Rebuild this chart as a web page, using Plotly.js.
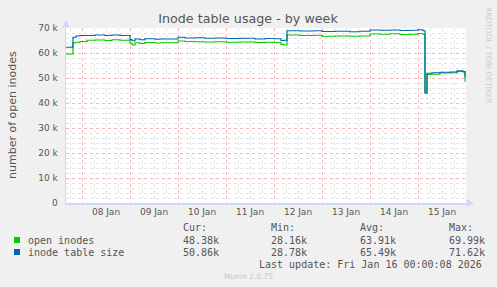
<!DOCTYPE html>
<html>
<head>
<meta charset="utf-8">
<script src="https://cdn.plot.ly/plotly-3.0.1.min.js"></script>
<style>
html,body{margin:0;padding:0;background:#F0F0F0;}
#chart{width:497px;height:287px;}
</style>
</head>
<body>
<div id="chart"></div>
<script>
// ---- data ----
const times = [
  '2026-01-07 16:00','2026-01-07 19:30','2026-01-07 21:00','2026-01-07 23:00',
  '2026-01-08 02:30','2026-01-08 06:30','2026-01-08 11:30','2026-01-08 15:00','2026-01-08 19:00',
  '2026-01-09 00:00','2026-01-09 01:00','2026-01-09 02:30','2026-01-09 05:00','2026-01-09 07:30',
  '2026-01-09 12:30','2026-01-09 15:00',
  '2026-01-10 00:00','2026-01-10 03:30','2026-01-10 08:30','2026-01-10 13:30','2026-01-10 18:30',
  '2026-01-11 00:00','2026-01-11 07:00','2026-01-11 14:30','2026-01-11 19:30',
  '2026-01-12 00:00','2026-01-12 03:30','2026-01-12 05:00','2026-01-12 06:30','2026-01-12 13:00',
  '2026-01-12 20:30',
  '2026-01-13 00:00','2026-01-13 06:30','2026-01-13 14:00','2026-01-13 19:00',
  '2026-01-14 00:00','2026-01-14 05:00','2026-01-14 10:00','2026-01-14 15:00','2026-01-14 20:00',
  '2026-01-15 00:00','2026-01-15 02:30','2026-01-15 03:30','2026-01-15 04:30','2026-01-15 07:00',
  '2026-01-15 11:00','2026-01-15 16:00','2026-01-15 19:30','2026-01-15 22:30','2026-01-15 23:30'
];
const openInodes = [
  59600,64100,64300,64600,
  65100,65200,65000,65300,65100,
  63900,63200,64100,63800,64200,
  64000,64100,
  64800,64600,64500,64400,64500,
  64300,64400,64200,64300,
  64200,63400,63200,67200,67000,
  67100,
  66700,66800,66700,66800,
  67600,67500,67700,67400,67500,
  67800,67500,44500,51400,51500,
  52000,52100,52600,52400,48500
];
const tableSize = [
  62300,66300,66800,67000,
  67000,67200,67000,67200,67000,
  65400,64900,65600,65300,65700,
  65500,65600,
  66300,66000,66100,65900,66000,
  65800,65900,65600,65800,
  65700,65000,65100,68900,68800,
  68900,
  68600,68700,68500,68700,
  69200,69100,69200,69000,69100,
  69300,68900,43900,51900,52100,
  52300,52400,52900,52600,50500
];
const yTickVals = [0,10000,20000,30000,40000,50000,60000,70000];
const yTickText = ['0','10 k','20 k','30 k','40 k','50 k','60 k','70 k'];
const seriesNames = ['open inodes','inode table size'];
const seriesColors = ['#00CC00','#0066B3'];
const legendHeaders = ['Cur:','Min:','Avg:','Max:'];
const legendValues = [
  ['48.38k','28.16k','63.91k','69.99k'],
  ['50.86k','28.78k','65.49k','71.62k']
];
const lastUpdate = 'Last update: Fri Jan 16 00:00:08 2026';

// ---- layout helpers (pixel -> paper) ----
const W = 497, H = 287, L = 66, R = 31, T = 28, B = 84;
const PW = W - L - R, PH = H - T - B;
const px = v => (v - L) / PW;
const py = v => (H - B - v) / PH;

const traces = [
  {x: times, y: openInodes, name: seriesNames[0], type: 'scatter', mode: 'lines',
   line: {color: seriesColors[0], width: 1.2, shape: 'hv'}},
  {x: times, y: tableSize, name: seriesNames[1], type: 'scatter', mode: 'lines',
   line: {color: seriesColors[1], width: 1.2, shape: 'hv'}}
];

const mono = {family: 'DejaVu Sans Mono', size: 10, color: '#555555'};
const ann = [];
const colX = [181, 269, 358, 447];
legendHeaders.forEach((h, i) => {
  ann.push({xref: 'paper', yref: 'paper', x: px(colX[i]), y: py(227), text: h,
    showarrow: false, xanchor: 'left', yanchor: 'middle', font: mono});
});
seriesNames.forEach((n, r) => {
  const yy = r === 0 ? 240 : 252;
  ann.push({xref: 'paper', yref: 'paper', x: px(26), y: py(yy), text: n,
    showarrow: false, xanchor: 'left', yanchor: 'middle', font: mono});
  legendValues[r].forEach((v, i) => {
    ann.push({xref: 'paper', yref: 'paper', x: px(colX[i]), y: py(yy), text: v,
      showarrow: false, xanchor: 'left', yanchor: 'middle', font: mono});
  });
});
ann.push({xref: 'paper', yref: 'paper', x: px(484), y: py(264), text: lastUpdate,
  showarrow: false, xanchor: 'right', yanchor: 'middle', font: mono});
ann.push({xref: 'paper', yref: 'paper', x: px(248), y: py(276), text: 'Munin 2.0.75',
  showarrow: false, xanchor: 'center', yanchor: 'middle',
  font: {family: 'DejaVu Sans', size: 7.5, color: '#C4C4C4'}});
ann.push({xref: 'paper', yref: 'paper', x: px(488), y: py(55), text: 'RRDTOOL / TOBI OETIKER',
  showarrow: false, textangle: 90, xanchor: 'center', yanchor: 'middle',
  font: {family: 'DejaVu Sans', size: 7.5, color: '#CCCCCC'}});
ann.push({xref: 'paper', yref: 'paper', x: px(12), y: py(115), text: 'number of open inodes',
  showarrow: false, textangle: -90, xanchor: 'center', yanchor: 'middle',
  font: {family: 'DejaVu Sans', size: 11, color: '#555555'}});
// axis arrows
ann.push({xref: 'paper', yref: 'paper', x: 0, y: py(20), ax: 0, ay: 6, text: '',
  showarrow: true, arrowhead: 2, arrowsize: 1, arrowwidth: 1.5, arrowcolor: '#CFD6F8'});
ann.push({xref: 'paper', yref: 'paper', x: px(474), y: 0, ax: -6, ay: 0, text: '',
  showarrow: true, arrowhead: 2, arrowsize: 1, arrowwidth: 1.5, arrowcolor: '#CFD6F8'});

const shapes = seriesColors.map((c, r) => {
  const yy = r === 0 ? 240 : 252;
  return {type: 'rect', xref: 'paper', yref: 'paper',
    x0: px(14), x1: px(20), y0: py(yy + 3), y1: py(yy - 3),
    fillcolor: c, line: {width: 0}};
});

const layout = {
  width: W, height: H,
  margin: {l: L, r: R, t: T, b: B, pad: 0},
  paper_bgcolor: '#F0F0F0',
  plot_bgcolor: '#FFFFFF',
  showlegend: false,
  title: {text: 'Inode table usage - by week', x: 0.499, xanchor: 'center',
    y: 1 - 19 / H, yanchor: 'middle',
    font: {family: 'DejaVu Sans', size: 12.7, color: '#555555'}},
  xaxis: {
    type: 'date',
    range: ['2026-01-07 16:00', '2026-01-16 00:00'],
    tick0: '2026-01-08 00:00', dtick: 86400000,
    tickformat: '%d %b', ticklabelmode: 'period',
    showgrid: true, gridcolor: '#F3B4B4', griddash: 'dot', gridwidth: 1,
    minor: {dtick: 21600000, showgrid: true, gridcolor: '#E2E2E2', griddash: 'dot', gridwidth: 1, ticks: ''},
    ticks: '', showline: true, linecolor: '#CFD6F8', linewidth: 1.5, mirror: false,
    zeroline: false,
    tickfont: {family: 'DejaVu Sans', size: 9, color: '#555555'}
  },
  yaxis: {
    range: [0, 70000], tickvals: yTickVals, ticktext: yTickText,
    showgrid: true, gridcolor: '#F3B4B4', griddash: 'dot', gridwidth: 1,
    minor: {dtick: 2000, showgrid: true, gridcolor: '#E2E2E2', griddash: 'dot', gridwidth: 1, ticks: ''},
    ticks: 'outside', ticklen: 5, tickcolor: 'rgba(0,0,0,0)',
    showline: true, linecolor: '#CFD6F8', linewidth: 1.5, mirror: false,
    zeroline: false,
    tickfont: {family: 'DejaVu Sans', size: 9, color: '#555555'}
  },
  annotations: ann,
  shapes: shapes
};

Plotly.newPlot('chart', traces, layout, {staticPlot: true, displayModeBar: false});
</script>
</body>
</html>
